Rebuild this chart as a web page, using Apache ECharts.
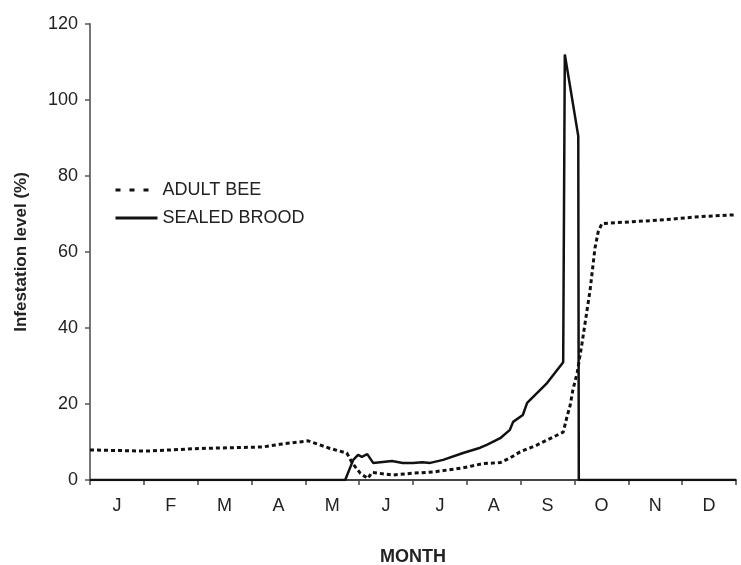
<!DOCTYPE html>
<html>
<head>
<meta charset="utf-8">
<script src="https://cdn.jsdelivr.net/npm/echarts@6/dist/echarts.min.js"></script>
<style>html,body{margin:0;padding:0;background:#fff}#c{width:741px;height:565px}</style>
</head>
<body>
<div id="c"></div>
<script>
var months = ['J','F','M','A','M','J','J','A','S','O','N','D'];
var yTicks = [0, 20, 40, 60, 80, 100, 120];
// x in months from 1 Jan (0..12), y in %
var adultX = [0.00,1.06,2.04,3.21,3.53,4.05,4.46,4.77,4.87,5.02,5.16,5.24,5.63,6.00,6.37,6.93,7.30,7.62,7.80,7.99,8.30,8.79,8.86,8.92,8.97,9.05,9.14,9.29,9.38,9.44,9.51,10.59,11.33,12.00];
var adultY = [7.9,7.6,8.3,8.7,9.4,10.3,8.3,7.1,4.5,1.8,0.4,2.0,1.3,1.8,2.1,3.2,4.3,4.6,5.8,7.4,9.2,12.6,16.6,19.7,23.7,28.2,36,50,61,65.3,67.5,68.4,69.3,69.8];
var broodX = [0.00,4.74,4.89,4.98,5.05,5.15,5.26,5.61,5.81,6.00,6.17,6.32,6.56,6.93,7.25,7.38,7.62,7.80,7.86,8.04,8.12,8.49,8.79,8.82,9.07,9.08,12.00];
var broodY = [0,0,5.3,6.6,6.1,6.8,4.5,5.0,4.5,4.5,4.7,4.5,5.3,7.1,8.5,9.3,11,13.2,15.3,17.1,20.3,25.5,31,112,90.5,0,0];

function pairs(xs, ys){ return xs.map(function(x,i){ return [x, ys[i]]; }); }

var chart = echarts.init(document.getElementById('c'));
var font = 'Liberation Sans, Arial, sans-serif';
chart.setOption({
  animation: false,
  textStyle: {fontFamily: font, color: '#222'},
  grid: {left: 90, right: 5, top: 24, bottom: 85, containLabel: false, outerBoundsMode: 'none'},
  legend: {
    orient: 'vertical', left: 109, top: 176,
    itemWidth: 42, itemHeight: 14, itemGap: 10,
    itemStyle: {opacity: 0},
    textStyle: {fontFamily: font, fontSize: 18, color: '#222'},
    data: [
      {name: 'ADULT BEE', lineStyle: {type: [5, 9], width: 3}},
      {name: 'SEALED BROOD', lineStyle: {type: 'solid', width: 3}}
    ]
  },
  xAxis: [{
    type: 'category', data: months, boundaryGap: true,
    name: 'MONTH', nameLocation: 'middle', nameGap: 68,
    nameTextStyle: {fontFamily: font, fontSize: 18, fontWeight: 'bold', color: '#222'},
    axisLine: {lineStyle: {color: '#444', width: 2}},
    axisTick: {show: true, inside: false, length: 5, alignWithLabel: false, lineStyle: {color: '#444', width: 1.5}},
    axisLabel: {fontFamily: font, fontSize: 18, color: '#222', margin: 17},
    splitLine: {show: false}
  }, {
    type: 'value', min: 0, max: 12, show: false
  }],
  yAxis: {
    type: 'value', min: 0, max: 120, interval: 20,
    name: 'Infestation level (%)', nameLocation: 'middle', nameGap: 60,
    nameTextStyle: {fontFamily: font, fontSize: 17, fontWeight: 'bold', color: '#222'},
    axisLine: {show: true, lineStyle: {color: '#777', width: 2}},
    axisTick: {show: true, inside: false, length: 5, lineStyle: {color: '#555', width: 1.5}},
    axisLabel: {fontFamily: font, fontSize: 18, color: '#222', margin: 12},
    splitLine: {show: false}
  },
  series: [{
    name: 'ADULT BEE', type: 'line', xAxisIndex: 1,
    data: pairs(adultX, adultY), symbol: 'none',
    lineStyle: {color: '#111', width: 3, type: [4, 3]},
    itemStyle: {color: '#111'}
  }, {
    name: 'SEALED BROOD', type: 'line', xAxisIndex: 1,
    data: pairs(broodX, broodY), symbol: 'none',
    lineStyle: {color: '#111', width: 2.5, type: 'solid'},
    itemStyle: {color: '#111'}
  }]
});
</script>
</body>
</html>
